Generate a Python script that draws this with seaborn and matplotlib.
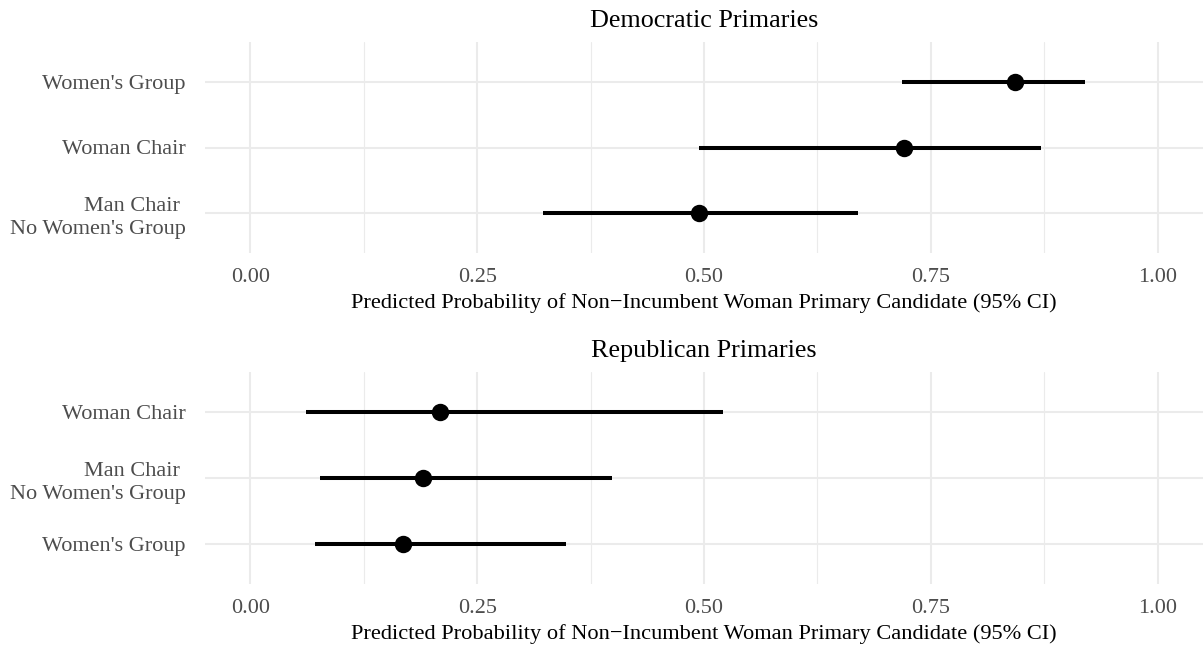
import matplotlib
matplotlib.use("Agg")
import matplotlib.pyplot as plt
import seaborn as sns
import pandas as pd
from matplotlib.ticker import MultipleLocator

# ---- data ----
dem_categories = ["Women's Group", "Woman Chair", "Man Chair \nNo Women's Group"]
dem_est = [0.843, 0.720, 0.495]
dem_low = [0.718, 0.495, 0.322]
dem_high = [0.920, 0.871, 0.670]

rep_categories = ["Woman Chair", "Man Chair \nNo Women's Group", "Women's Group"]
rep_est = [0.209, 0.190, 0.168]
rep_low = [0.061, 0.077, 0.071]
rep_high = [0.521, 0.399, 0.348]

x_ticks = [0.00, 0.25, 0.50, 0.75, 1.00]
x_tick_labels = ["0.00", "0.25", "0.50", "0.75", "1.00"]
titles = ["Democratic Primaries", "Republican Primaries"]
xlabel = "Predicted Probability of Non\u2212Incumbent Woman Primary Candidate (95% CI)"

sns.set_theme(style="white")
plt.rcParams['font.family'] = ['Liberation Serif', 'DejaVu Serif']

W, H = 1204, 646
fig = plt.figure(figsize=(W / 100, H / 100), dpi=100)


def long_frame(cats, low, est, high):
    rows = []
    for c, l, e, h in zip(cats, low, est, high):
        for v in (l, e, h):
            rows.append({"category": c, "value": v})
    return pd.DataFrame(rows)


def panel(rect_px, cats, low, est, high, title):
    x0, y0, x1, y1 = rect_px
    ax = fig.add_axes([x0 / W, 1 - y1 / H, (x1 - x0) / W, (y1 - y0) / H])
    df = long_frame(cats, low, est, high)
    sns.pointplot(data=df, x="value", y="category", order=cats,
                  estimator="median", errorbar=("pi", 100),
                  linestyle="none", color="black", markersize=10.5,
                  err_kws={"linewidth": 2.9, "solid_capstyle": "butt"},
                  ax=ax, zorder=3)
    ax.set_xlim(-0.05, 1.05)
    ax.set_ylim(len(cats) - 0.4, -0.6)
    ax.xaxis.set_minor_locator(MultipleLocator(0.125))
    ax.set_xticks(x_ticks)
    ax.set_xticklabels(x_tick_labels)
    ax.grid(which="major", axis="both", color="#EBEBEB", linewidth=1.5, zorder=0)
    ax.grid(which="minor", axis="x", color="#EBEBEB", linewidth=0.8, zorder=0)
    ax.set_axisbelow(True)
    for s in ax.spines.values():
        s.set_visible(False)
    ax.tick_params(axis="x", which="both", length=0, pad=11, labelsize=16,
                   labelcolor="#4D4D4D")
    ax.tick_params(axis="y", which="both", length=0, pad=14, labelsize=16,
                   labelcolor="#4D4D4D")
    for t in ax.get_yticklabels():
        t.set_horizontalalignment("right")
        t.set_linespacing(1.3)
    ax.set_ylabel("")
    ax.set_xlabel(xlabel, fontsize=16.1, color="black", labelpad=4)
    ax.set_title(title, fontsize=18.8, color="black", pad=11)
    return ax


panel((205, 42, 1203, 253), dem_categories, dem_low, dem_est, dem_high, titles[0])
panel((205, 372, 1203, 584), rep_categories, rep_low, rep_est, rep_high, titles[1])

fig.savefig("out.png", dpi=100, facecolor="white")
